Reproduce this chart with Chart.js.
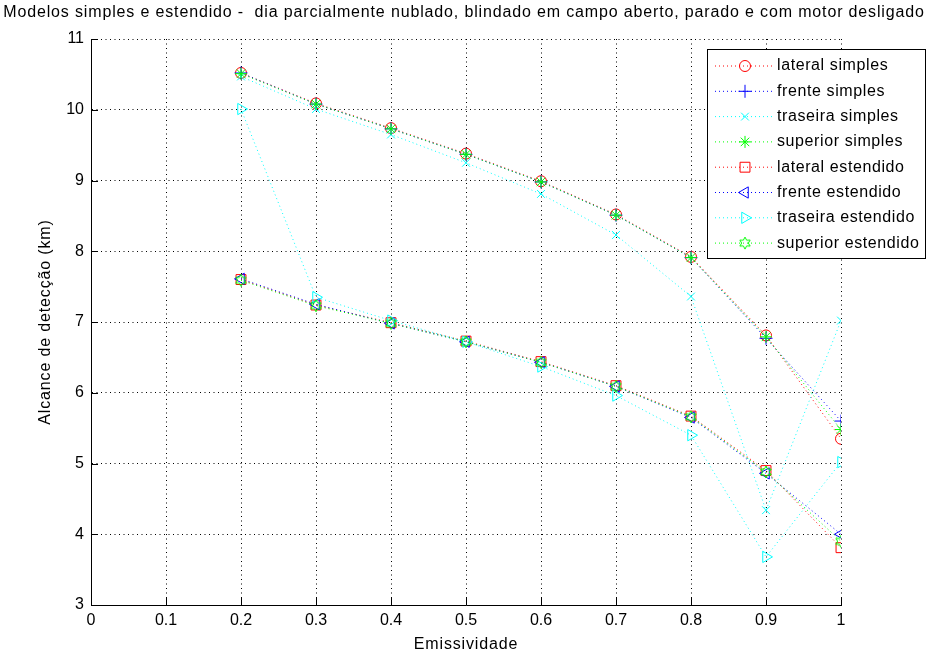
<!DOCTYPE html>
<html>
<head>
<meta charset="utf-8">
<script src="https://cdn.jsdelivr.net/npm/chart.js@4/dist/chart.umd.min.js"></script>
<style>
  html, body { margin: 0; padding: 0; background: #fff; }
  #wrap { width: 928px; height: 657px; position: relative; }
</style>
</head>
<body>
<div id="wrap"><canvas id="c" width="928" height="657"></canvas></div>
<script>
// Emissividade (eixo x)
const emissividade = [0.2, 0.3, 0.4, 0.5, 0.6, 0.7, 0.8, 0.9, 1.0];

// Alcance de detecção (km) - modelo simples
const lateralSimples  = [10.52, 10.09, 9.74, 9.38, 8.99, 8.52, 7.92, 6.81, 5.35];
const frenteSimples   = [10.52, 10.08, 9.73, 9.37, 8.98, 8.51, 7.91, 6.77, 5.60];
const traseiraSimples = [10.47, 10.01, 9.65, 9.25, 8.81, 8.23, 7.36, 4.34, 7.02];
const superiorSimples = [10.51, 10.08, 9.73, 9.37, 8.98, 8.51, 7.91, 6.79, 5.48];

// Alcance de detecção (km) - modelo estendido
const lateralEstendido  = [7.60, 7.24, 6.99, 6.73, 6.44, 6.10, 5.67, 4.90, 3.81];
const frenteEstendido   = [7.61, 7.25, 6.98, 6.72, 6.43, 6.09, 5.65, 4.86, 4.00];
const traseiraEstendido = [10.01, 7.35, 7.02, 6.72, 6.37, 5.96, 5.40, 3.68, 5.02];
const superiorEstendido = [7.59, 7.23, 6.98, 6.72, 6.43, 6.09, 5.66, 4.88, 3.90];

const seriesNames = [
  'lateral simples', 'frente simples', 'traseira simples', 'superior simples',
  'lateral estendido', 'frente estendido', 'traseira estendido', 'superior estendido'
];
const seriesValues = [
  lateralSimples, frenteSimples, traseiraSimples, superiorSimples,
  lateralEstendido, frenteEstendido, traseiraEstendido, superiorEstendido
];

const titleText = 'Modelos simples e estendido -  dia parcialmente nublado, blindado em campo aberto, parado e com motor desligado';
const xTitle = 'Emissividade';
const yTitle = 'Alcance de detecção (km)';

const FONT = "'Liberation Sans', Arial, Helvetica, sans-serif";
Chart.defaults.font.family = FONT;
Chart.defaults.font.size = 16;
Chart.defaults.color = '#000';

const RED = '#ff0000', BLUE = '#0000ff', CYAN = '#00ffff', GREEN = '#00ff00';

// six-pointed star (hexagram) marker
function hexagram(color, size) {
  const cv = document.createElement('canvas');
  cv.width = size; cv.height = size;
  const g = cv.getContext('2d');
  const c = size / 2, r = size / 2 - 1;
  g.strokeStyle = color; g.lineWidth = 1;
  g.beginPath();
  for (let k = 0; k < 12; k++) {
    const a = -Math.PI / 2 + k * Math.PI / 6;
    const rr = (k % 2 === 0) ? r : r * 0.55;
    const px = c + rr * Math.cos(a), py = c + rr * Math.sin(a);
    if (k === 0) g.moveTo(px, py); else g.lineTo(px, py);
  }
  g.closePath();
  g.stroke();
  return cv;
}

const styles = [
  { color: RED,   pointStyle: 'circle',   radius: 5.5, rotation: 0 },
  { color: BLUE,  pointStyle: 'cross',    radius: 6.5, rotation: 0 },
  { color: CYAN,  pointStyle: 'crossRot', radius: 5.5, rotation: 0 },
  { color: GREEN, pointStyle: 'star',     radius: 6,   rotation: 0 },
  { color: RED,   pointStyle: 'rect',     radius: 7,   rotation: 0 },
  { color: BLUE,  pointStyle: 'triangle', radius: 6.5, rotation: -90 },
  { color: CYAN,  pointStyle: 'triangle', radius: 6.5, rotation: 90 },
  { color: GREEN, pointStyle: hexagram(GREEN, 14), radius: 6, rotation: 0 }
];

const datasets = seriesNames.map((name, i) => ({
  label: name,
  data: emissividade.map((x, j) => ({ x: x, y: seriesValues[i][j] })),
  borderColor: styles[i].color,
  backgroundColor: 'rgba(0,0,0,0)',
  borderWidth: 1,
  borderDash: [1, 3],
  pointStyle: styles[i].pointStyle,
  pointRadius: styles[i].radius,
  pointRotation: styles[i].rotation,
  pointBorderColor: styles[i].color,
  pointBackgroundColor: 'rgba(0,0,0,0)',
  pointBorderWidth: 1,
  fill: false,
  tension: 0,
  order: seriesNames.length - 1 - i
}));

// titles, inward tick marks and the legend box
const decorations = {
  id: 'decorations',
  afterDraw(chart) {
    const ctx = chart.ctx;
    const area = chart.chartArea;
    const xs = chart.scales.x, ys = chart.scales.y;
    ctx.save();

    // inward tick marks on the left and bottom axes
    ctx.strokeStyle = '#000';
    ctx.lineWidth = 1;
    ctx.setLineDash([]);
    ctx.beginPath();
    xs.ticks.forEach(t => {
      const px = Math.round(xs.getPixelForValue(t.value)) + 0.5;
      ctx.moveTo(px, area.bottom);
      ctx.lineTo(px, area.bottom - 7);
    });
    ys.ticks.forEach(t => {
      const py = Math.round(ys.getPixelForValue(t.value)) + 0.5;
      ctx.moveTo(area.left, py);
      ctx.lineTo(area.left + 7, py);
    });
    ctx.stroke();

    // chart title and axis titles
    ctx.fillStyle = '#000';
    ctx.font = '16px ' + FONT;
    ctx.letterSpacing = '0.85px';
    ctx.textAlign = 'center';
    ctx.textBaseline = 'middle';
    ctx.fillText(titleText, 464, 13);
    ctx.fillText(xTitle, (area.left + area.right) / 2, 645);
    ctx.save();
    ctx.translate(46, (area.top + area.bottom) / 2);
    ctx.rotate(-Math.PI / 2);
    ctx.fillText(yTitle, 0, 0);
    ctx.restore();

    // legend
    const bx = 707.5, by = 49.5, bw = 218, bh = 209;
    ctx.fillStyle = '#fff';
    ctx.fillRect(bx, by, bw, bh);
    ctx.strokeStyle = '#000';
    ctx.strokeRect(bx, by, bw, bh);
    ctx.letterSpacing = '0.6px';
    chart.data.datasets.forEach((ds, i) => {
      const rowY = 66 + i * 25.3;
      ctx.strokeStyle = ds.borderColor;
      ctx.lineWidth = 1;
      ctx.setLineDash([1, 3]);
      ctx.beginPath();
      ctx.moveTo(715, rowY);
      ctx.lineTo(773, rowY);
      ctx.stroke();
      ctx.setLineDash([]);
      ctx.fillStyle = 'rgba(0,0,0,0)';
      Chart.helpers.drawPoint(ctx, {
        pointStyle: ds.pointStyle,
        rotation: ds.pointRotation,
        radius: ds.pointRadius,
        borderWidth: 1
      }, 745, rowY);
      ctx.fillStyle = '#000';
      ctx.textAlign = 'left';
      ctx.textBaseline = 'middle';
      ctx.fillText(ds.label, 777, rowY);
    });
    ctx.restore();
  }
};

new Chart(document.getElementById('c'), {
  type: 'line',
  data: { datasets: datasets },
  options: {
    responsive: false,
    devicePixelRatio: 1,
    animation: false,
    layout: { padding: { top: 39, right: 87, bottom: 0, left: 0 } },
    plugins: {
      legend: { display: false },
      title: { display: false },
      tooltip: { enabled: false }
    },
    scales: {
      x: {
        type: 'linear',
        min: 0, max: 1,
        ticks: {
          stepSize: 0.1,
          padding: 6,
          color: '#000',
          font: { size: 16 },
          maxRotation: 0,
          callback: v => String(Math.round(v * 10) / 10)
        },
        grid: { color: '#000', lineWidth: 1, drawTicks: false },
        border: { display: true, color: '#000', width: 1, dash: [1, 3.5] },
        afterFit: s => { s.height = 52; }
      },
      y: {
        type: 'linear',
        min: 3, max: 11,
        ticks: {
          stepSize: 1,
          padding: 7,
          color: '#000',
          font: { size: 16 }
        },
        grid: { color: '#000', lineWidth: 1, drawTicks: false },
        border: { display: true, color: '#000', width: 1, dash: [1, 3.5] },
        afterFit: s => { s.width = 91; }
      }
    }
  },
  plugins: [decorations]
});
</script>
</body>
</html>
